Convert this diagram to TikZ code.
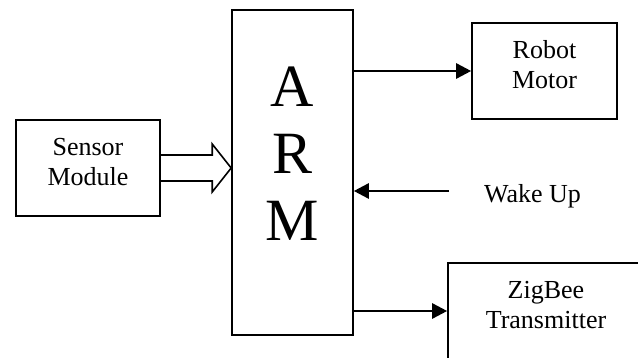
\documentclass[tikz,border=0pt]{standalone}
\usepackage{fontspec}
\setmainfont{Liberation Serif}
\usetikzlibrary{arrows.meta,positioning,calc}

\begin{document}
\begin{tikzpicture}[
  x=1pt,y=1pt,
  box/.style={draw,line width=1.6pt,align=center,inner sep=0pt,
              font=\fontsize{26}{30}\selectfont,text depth=13pt},
  blk/.style={box,minimum width=145pt,minimum height=96pt},
  ar/.style={-{Triangle[length=15pt,width=15pt]},line width=2.6pt},
  hollow/.style={line width=1.6pt,line join=miter}
]
\useasboundingbox (0,0) rectangle (638,-358);
\node[box,minimum width=121pt,minimum height=325pt,
      font=\fontsize{60}{67}\selectfont,text depth=37pt] (arm) at (292.5,-172.5) {A\\R\\M};
\node[blk] (robot) at (544.5,-71) {Robot\\Motor};
\node[blk,minimum width=144pt] (sensor) at (88,-168) {Sensor\\Module};
\node[blk,minimum width=196pt] (zigbee) at (546,-311) {ZigBee\\Transmitter};
\node[font=\fontsize{26}{30}\selectfont,anchor=base] (wake) at (532.5,-203) {Wake Up};
\coordinate (wakein) at (449,-191);
\coordinate (tip) at (sensor.east -| arm.west);

\draw[ar] (arm.east |- robot.west) -- (robot.west);
\draw[ar] (wakein) -- (wakein -| arm.east);
\draw[ar] (arm.east |- zigbee.west) -- (zigbee.west);
% hollow input arrow
\draw[hollow] ([yshift=13pt]sensor.east) -- ($(tip)+(-19,13)$) -- ($(tip)+(-19,24)$)
  -- (tip) -- ($(tip)+(-19,-24)$) -- ($(tip)+(-19,-13)$) -- ([yshift=-13pt]sensor.east);
\end{tikzpicture}
\end{document}
